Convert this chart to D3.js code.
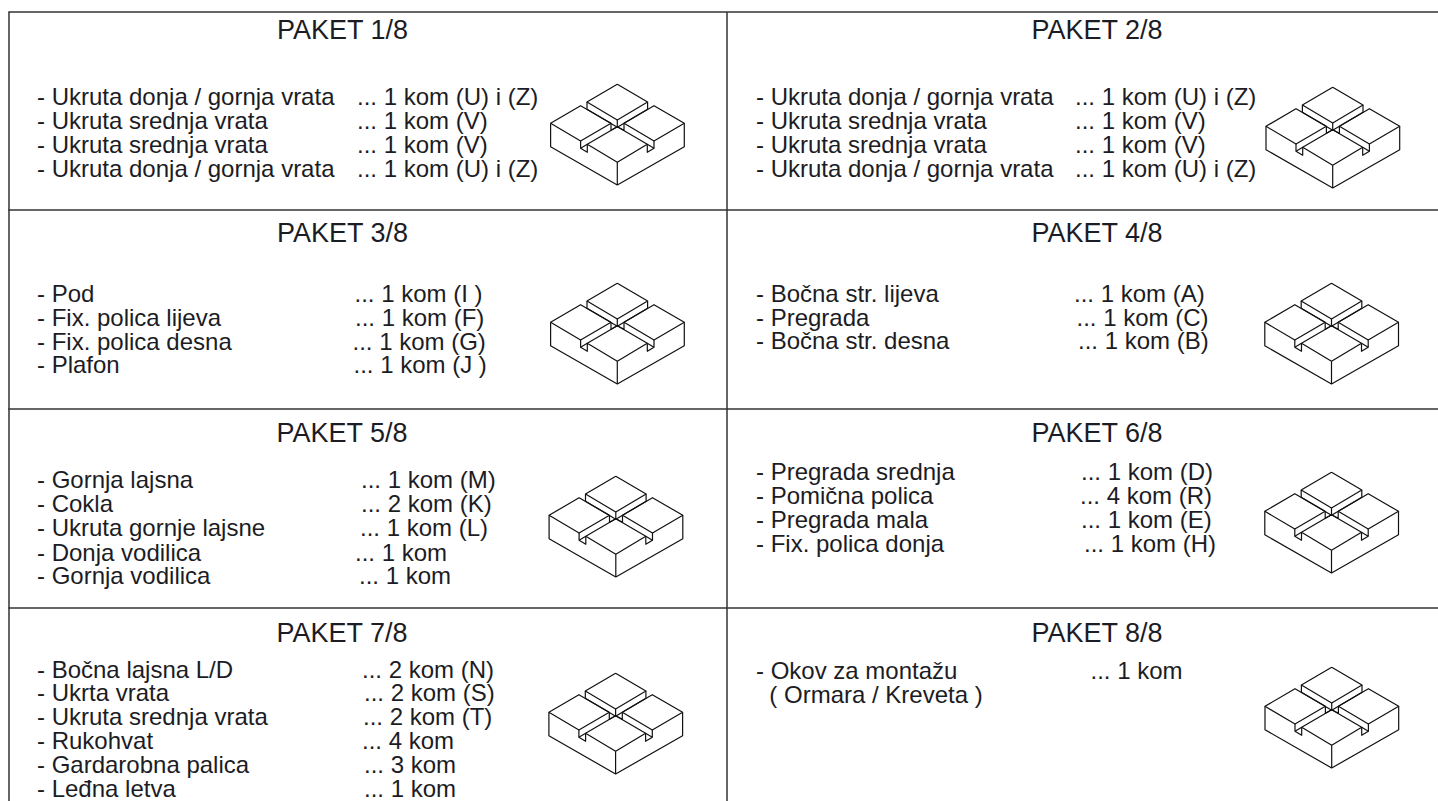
<!DOCTYPE html>
<html><head><meta charset="utf-8">
<style>html,body{margin:0;background:#fff;overflow:hidden}svg{display:block}text{font-family:"Liberation Sans",Arial,sans-serif;fill:#1c1c24}</style>
<script src="https://cdn.jsdelivr.net/npm/d3@7/dist/d3.min.js"></script></head><body>
<svg id="c" width="1438" height="801"></svg>
<script>
const titles=["PAKET 1/8","PAKET 2/8","PAKET 3/8","PAKET 4/8","PAKET 5/8","PAKET 6/8","PAKET 7/8","PAKET 8/8"];
const labels=[
["- Ukruta donja / gornja vrata","- Ukruta srednja vrata","- Ukruta srednja vrata","- Ukruta donja / gornja vrata"],
["- Ukruta donja / gornja vrata","- Ukruta srednja vrata","- Ukruta srednja vrata","- Ukruta donja / gornja vrata"],
["- Pod","- Fix. polica lijeva","- Fix. polica desna","- Plafon"],
["- Bočna str. lijeva","- Pregrada","- Bočna str. desna"],
["- Gornja lajsna","- Cokla","- Ukruta gornje lajsne","- Donja vodilica","- Gornja vodilica"],
["- Pregrada srednja","- Pomična polica","- Pregrada mala","- Fix. polica donja"],
["- Bočna lajsna L/D","- Ukrta vrata","- Ukruta srednja vrata","- Rukohvat","- Gardarobna palica","- Leđna letva"],
["- Okov za montažu","  ( Ormara / Kreveta )"]];
const counts=[
["... 1 kom (U) i (Z)","... 1 kom (V)","... 1 kom (V)","... 1 kom (U) i (Z)"],
["... 1 kom (U) i (Z)","... 1 kom (V)","... 1 kom (V)","... 1 kom (U) i (Z)"],
["... 1 kom (I )","... 1 kom (F)","... 1 kom (G)","... 1 kom (J )"],
["... 1 kom (A)","... 1 kom (C)","... 1 kom (B)"],
["... 1 kom (M)","... 2 kom (K)","... 1 kom (L)","... 1 kom","... 1 kom"],
["... 1 kom (D)","... 4 kom (R)","... 1 kom (E)","... 1 kom (H)"],
["... 2 kom (N)","... 2 kom (S)","... 2 kom (T)","... 4 kom","... 3 kom","... 1 kom"],
["... 1 kom"]];
const labelX=[37,756,37,756,37,756,37,756];
const countX=[[357,357,357,357],[1075,1075,1075,1075],[354.5,355,352.5,353.5],[1074,1076.5,1078],[361,361,360,355,359],[1081,1080,1081,1084],[362,364,363,362,364,364],[1090.5]];
const baselines=[[105,129,153,177],[105,129,153,177],[302,326,350,373],[302,326,349],[488,512,536,561,584],[480,504,528,552],[678,701,725,749,773,797],[679,703]];
const titleX=[342.5,1097,342.5,1097,342,1097,342,1097];
const titleY=[39,39,242,242,442,442,642,642];
const iconX=[617.3,1332.7,617.3,1331.5,615.8,1331.5,615.6,1331.7];
const iconBottom=[185,188,384,384,577,573,774,768];
const rowLines=[12,210,409,608];
const colLines=[9,727];

// icon template in isometric drawing units
const iconPaths=[
 [[0,-100.7],[30.3,-83],[0,-65],[-30.3,-83],[0,-100.7]],
 [[-30.3,-83],[-30.3,-75.7],[0,-57.7],[30.3,-75.7],[30.3,-83]],
 [[0,-65],[0,-57.7]],
 [[-6.3,-61.7],[-36.7,-79.3],[-66.7,-61.7],[-36.7,-44],[-6.3,-61.7]],
 [[6.7,-61.7],[36.7,-79.3],[67,-61.7],[36.7,-44],[6.7,-61.7]],
 [[0,-58.3],[-30,-40.7],[0,-22.7],[30,-40.7],[0,-58.3]],
 [[-66.7,-61.7],[-66.7,-38.3],[0,0],[67,-38.3],[67,-61.7]],
 [[0,-22.7],[0,0]],
 [[-36.7,-44],[-36.7,-36.7],[-30,-32.7],[-30,-40.7]],
 [[-36.7,-36.7],[-30,-40.7]],
 [[36.7,-44],[36.7,-36.7],[30,-32.7],[30,-40.7]],
 [[36.7,-36.7],[30,-40.7]],
 [[-6.3,-61.7],[-6.3,-54.7],[0,-58.3],[6.7,-54.7],[6.7,-61.7]]
];
const scale=d3.scaleLinear().domain([0,1]).range([0,1]);
const line=d3.line().x(d=>scale(d[0])).y(d=>scale(d[1]));
const svg=d3.select("#c");

svg.selectAll("line.h").data(rowLines).join("line").attr("class","h")
 .attr("x1",colLines[0]-0.7).attr("x2",1438).attr("y1",d=>d).attr("y2",d=>d)
 .attr("stroke","#333").attr("stroke-width",1.5);
svg.selectAll("line.v").data(colLines).join("line").attr("class","v")
 .attr("x1",d=>d).attr("x2",d=>d).attr("y1",rowLines[0]).attr("y2",801)
 .attr("stroke","#333").attr("stroke-width",1.5);

titles.forEach((t,i)=>{
 const g=svg.append("g");
 g.append("text").attr("x",titleX[i]).attr("y",titleY[i])
  .attr("text-anchor","middle").attr("font-size",27).text(t);
 g.selectAll("text.l").data(labels[i]).join("text").attr("class","l")
  .attr("x",labelX[i]).attr("y",(d,k)=>baselines[i][k]).attr("font-size",24).style("white-space","pre").text(d=>d);
 g.selectAll("text.c").data(counts[i]).join("text").attr("class","c")
  .attr("x",(d,k)=>countX[i][k]).attr("y",(d,k)=>baselines[i][k]).attr("font-size",24).text(d=>d);
 const ic=g.append("g").attr("transform",`translate(${iconX[i]},${iconBottom[i]})`);
 ic.selectAll("path").data(iconPaths).join("path").attr("d",line)
  .attr("fill","none").attr("stroke","#111").attr("stroke-width",1.2).attr("stroke-linejoin","round");
});
</script></body></html>
